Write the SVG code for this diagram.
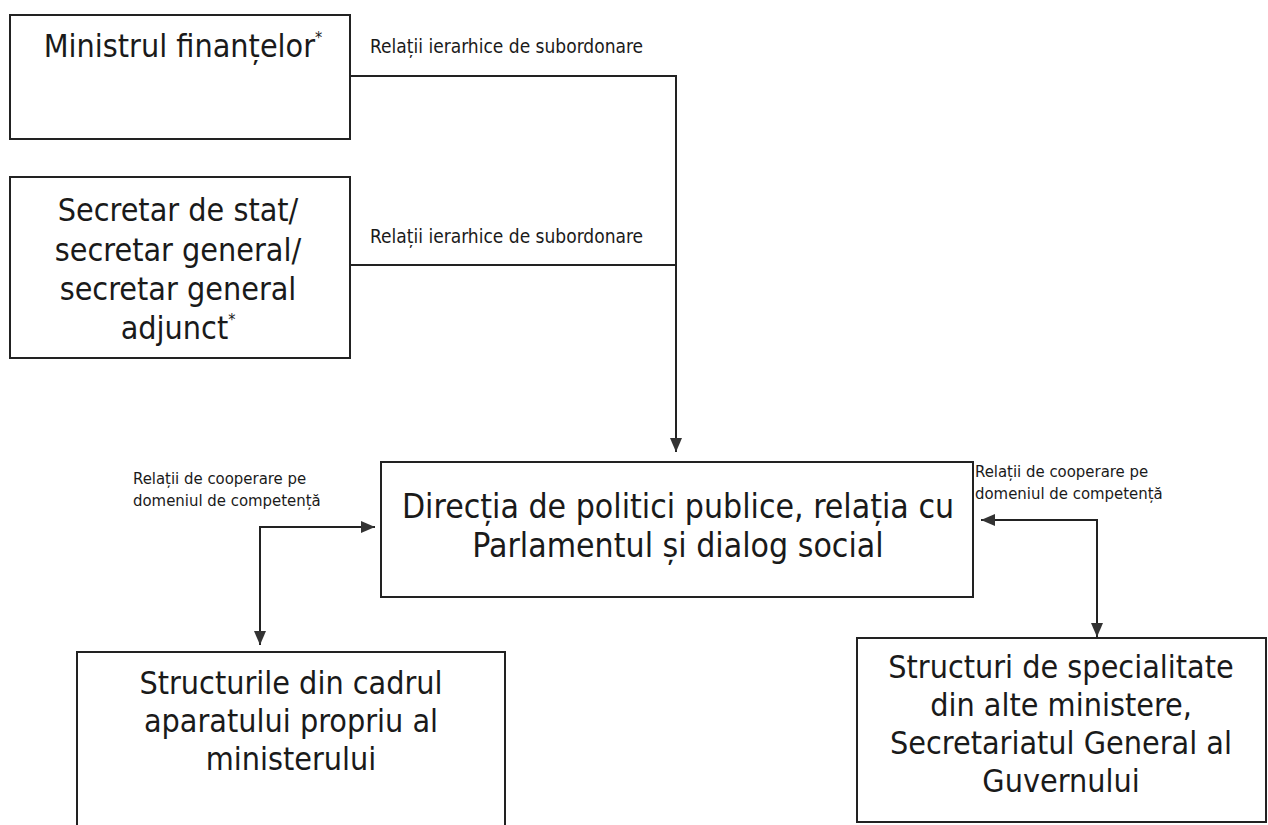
<svg xmlns="http://www.w3.org/2000/svg" width="1268" height="825" viewBox="0 0 1268 825">
<style>
.box{fill:#fff;stroke:#222;stroke-width:2}
.big{font-family:"DejaVu Sans Condensed","DejaVu Sans",sans-serif;font-stretch:condensed;font-size:32px;fill:#1a1a1a;text-anchor:middle}
.dir{font-size:33.5px}
.small{font-family:"DejaVu Sans Condensed","DejaVu Sans",sans-serif;font-stretch:condensed;font-size:19px;fill:#1a1a1a}
.coop{font-size:16.6px}
.sup{font-size:16px}
.conn{fill:none;stroke:#222;stroke-width:2}
</style>
<defs>
<marker id="arr" viewBox="0 0 14 12" refX="14" refY="6" markerWidth="14" markerHeight="12" markerUnits="userSpaceOnUse" orient="auto">
<path d="M0,0 L14,6 L0,12 Z" fill="#333"/>
</marker>
</defs>
<rect width="1268" height="825" fill="#fff"/>
<g id="connectors">
<path class="conn" d="M350,76 H676 V452" marker-end="url(#arr)"/>
<path class="conn" d="M350,265 H676"/>
<path class="conn" d="M260,527 H375" marker-end="url(#arr)"/>
<path class="conn" d="M260,526 V645" marker-end="url(#arr)"/>
<path class="conn" d="M1097,520 H981" marker-end="url(#arr)"/>
<path class="conn" d="M1097,519 V637" marker-end="url(#arr)"/>
<text class="small" x="370" y="53">Relații ierarhice de subordonare</text>
<text class="small" x="370" y="243">Relații ierarhice de subordonare</text>
<text class="small coop" x="133" y="484">Relații de cooperare pe</text>
<text class="small coop" x="133" y="506">domeniul de competență</text>
<text class="small coop" x="975" y="477">Relații de cooperare pe</text>
<text class="small coop" x="975" y="499">domeniul de competență</text>
</g>
<g id="ministru">
<rect class="box" x="10" y="15" width="340" height="124"/>
<text class="big" x="183" y="57">Ministrul finanțelor<tspan class="sup" dy="-14">*</tspan></text>
</g>
<g id="secretar">
<rect class="box" x="10" y="177" width="340" height="181"/>
<text class="big" x="178" y="221">Secretar de stat/</text>
<text class="big" x="178" y="261">secretar general/</text>
<text class="big" x="178" y="300">secretar general</text>
<text class="big" x="178" y="339">adjunct<tspan class="sup" dy="-14">*</tspan></text>
</g>
<g id="directia">
<rect class="box" x="381" y="462" width="592" height="135"/>
<text class="big dir" x="678" y="518">Direcția de politici publice, relația cu</text>
<text class="big dir" x="678" y="557">Parlamentul și dialog social</text>
</g>
<g id="structuri-proprii">
<path class="box" d="M77,826 V652 H505 V826"/>
<text class="big" x="291" y="694">Structurile din cadrul</text>
<text class="big" x="291" y="732">aparatului propriu al</text>
<text class="big" x="291" y="770">ministerului</text>
</g>
<g id="structuri-externe">
<rect class="box" x="857" y="638" width="409" height="184"/>
<text class="big" x="1061" y="678">Structuri de specialitate</text>
<text class="big" x="1061" y="716">din alte ministere,</text>
<text class="big" x="1061" y="754">Secretariatul General al</text>
<text class="big" x="1061" y="792">Guvernului</text>
</g>
</svg>
